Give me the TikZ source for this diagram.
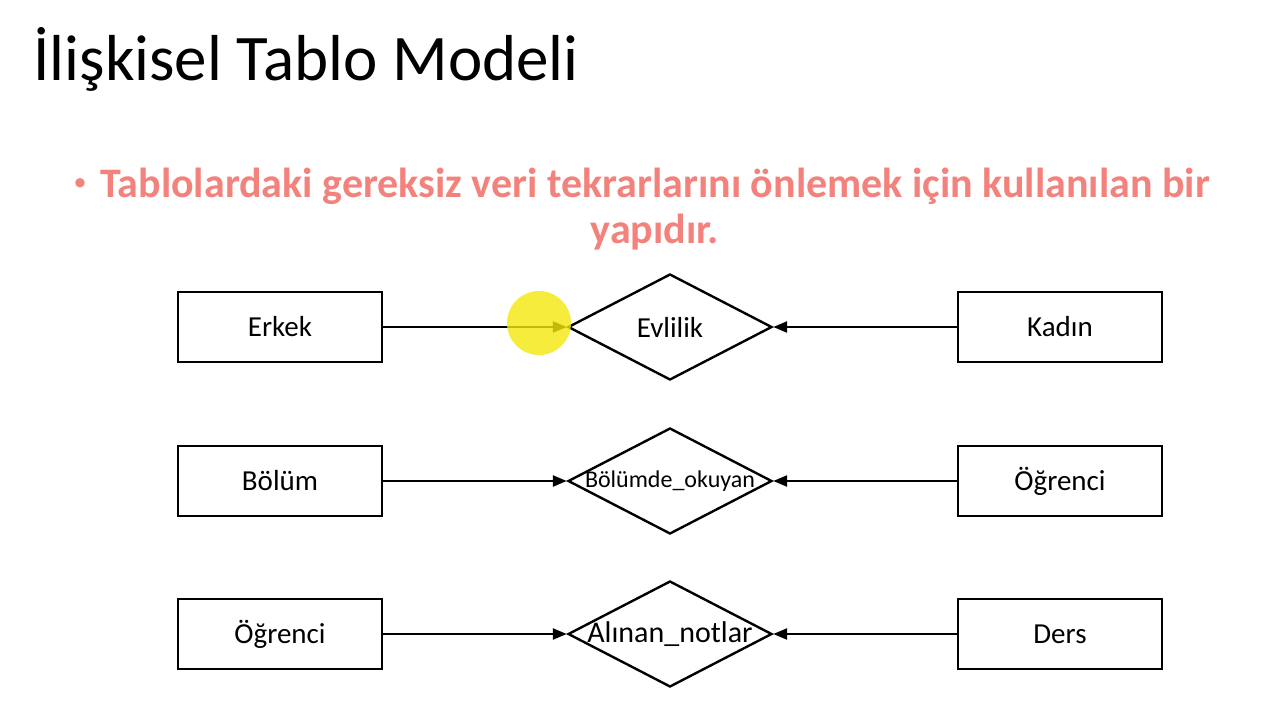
\documentclass[tikz,border=0pt]{standalone}
\usepackage{fontspec}
\setmainfont{Carlito}
\usetikzlibrary{shapes.geometric, arrows.meta, positioning, calc}
\definecolor{salmon}{RGB}{244,130,124}
\tikzstyle{arrow} = [line width=2.4pt, -{Triangle[length=14pt, width=11pt]}]

\begin{document}
\begin{tikzpicture}[x=1pt, y=-1pt,
      entity/.style={rectangle, draw=black, line width=2.4pt, minimum height=70pt, minimum width=204pt, align=center, font=\fontsize{29}{33}\selectfont},
      relation/.style={diamond, draw=black, line width=2.4pt, inner sep=0pt, minimum width=204pt, minimum height=106pt},
      headline/.style={anchor=base west, font=\fontsize{65}{70}\selectfont},
      bullet/.style={anchor=base, text=salmon, font=\bfseries\fontsize{42}{46}\selectfont},
    ]

    % Frame
    \fill[white] (0,0) rectangle (1284,718);
    \useasboundingbox (0,0) rectangle (1284,718);

    % Title and bullet
    \node[headline] (title) at (30,80) {İlişkisel Tablo Modeli};
    \node[text=salmon, font=\fontsize{26}{30}\selectfont] (dot) at (80,185) {•};
    \node[bullet] (line1) at (655,197) {Tablolardaki gereksiz veri tekrarlarını önlemek için kullanılan bir};
    \node[bullet] (line2) at (655,243) {yapıdır.};

    % Row 1
    \node[entity] (erkek) at (280,327) {Erkek};
    \node[relation] (evlilik) at (670,327) {\makebox[0pt]{\fontsize{29}{33}\selectfont Evlilik}};
    \node[entity] (kadin) at (1060,327) {Kadın};

    % Row 2
    \node[entity] (bolum) at (280,481) {Bölüm};
    \node[relation] (okuyan) at (670,481) {\makebox[0pt]{\fontsize{24}{28}\selectfont Bölümde\_okuyan}};
    \node[entity] (ogrenci) at (1060,481) {Öğrenci};

    % Row 3
    \node[entity] (ogrenci2) at (280,634) {Öğrenci};
    \node[relation] (notlar) at (670,634) {\makebox[0pt]{\fontsize{30}{34}\selectfont Alınan\_notlar}};
    \node[entity] (ders) at (1060,634) {Ders};

    % Edges
    \draw[arrow] (erkek) -- (evlilik.west);
    \draw[arrow] (kadin) -- (evlilik.east);
    \draw[arrow] (bolum) -- (okuyan.west);
    \draw[arrow] (ogrenci) -- (okuyan.east);
    \draw[arrow] (ogrenci2) -- (notlar.west);
    \draw[arrow] (ders) -- (notlar.east);

    % Pointer
    \fill[yellow!95!black, opacity=0.8] (539,323) circle (32);

  \end{tikzpicture}
\end{document}
